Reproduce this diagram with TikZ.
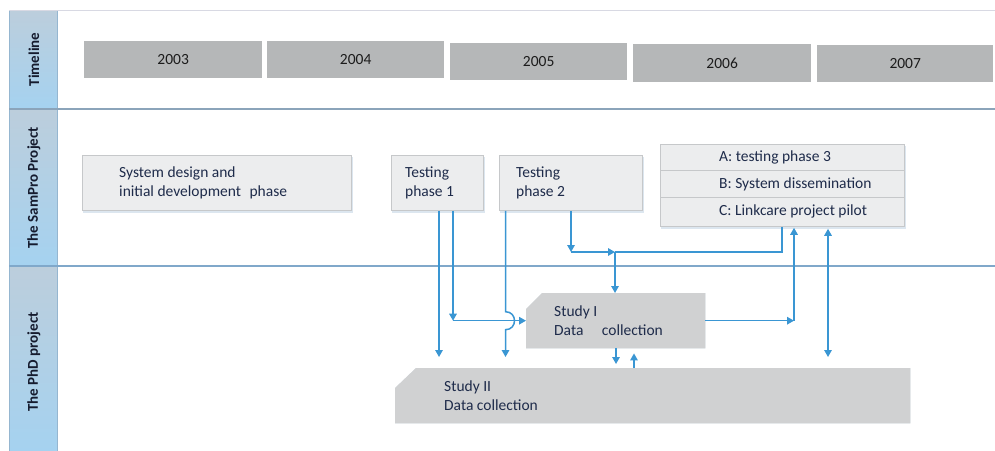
\documentclass[tikz,border=0pt]{standalone}
\usepackage{fontspec}
\setmainfont{Carlito}
\usetikzlibrary{arrows.meta,calc,backgrounds}

\definecolor{linkblue}{HTML}{3A96D3}
\definecolor{yeargray}{HTML}{B5B7B8}
\definecolor{boxfill}{HTML}{ECEDEE}
\definecolor{boxedge}{HTML}{C6C8CA}
\definecolor{studygray}{HTML}{D0D1D2}
\definecolor{shadowtint}{HTML}{DCE6EF}
\definecolor{boxink}{HTML}{1E2B4A}
\definecolor{yearink}{HTML}{1C1C1C}
\definecolor{laneink}{HTML}{151B2E}
\definecolor{laneTop}{HTML}{BCCEDC}
\definecolor{laneBot}{HTML}{A5D2F0}
\definecolor{coledge}{HTML}{95B6D0}
\definecolor{topline}{HTML}{D8D9E3}
\definecolor{sepA}{HTML}{8BA4BA}
\definecolor{sepB}{HTML}{80A8CA}

\begin{document}
\begin{tikzpicture}[x=1pt,y=-1pt,
  every node/.style={font=\fontsize{15.5}{18.5}\selectfont},
  yearbox/.style={rectangle, fill=yeargray, inner sep=0, anchor=north west, text=yearink},
  phasebox/.style={rectangle, draw=boxedge, fill=boxfill, line width=0.8pt,
    inner sep=0, anchor=north west},
  rowbox/.style={rectangle, draw=boxedge, fill=boxfill, line width=0.8pt,
    inner sep=0, anchor=north west, minimum width=244pt},
  studyframe/.style={rectangle, draw=none, inner sep=0, anchor=north west},
  boxtext/.style={anchor=west, align=left, inner sep=0, text=boxink},
  lanetitle/.style={rotate=90, inner sep=0, text=laneink,
    font=\fontsize{15}{18}\selectfont\bfseries},
  link/.style={draw=linkblue, line width=1.5pt},
  conn/.style={link, -{Triangle[length=7pt,width=7.5pt]}},
  biconn/.style={link, {Triangle[length=7pt,width=7.5pt]}-{Triangle[length=7pt,width=7.5pt]}},
  softshadow/.style={fill=shadowtint},
]
\useasboundingbox (0,0) rectangle (995,450);

% ---------- swim-lane frame ----------
\shade[top color=laneTop, bottom color=laneBot] (9,10) rectangle (57,109);
\shade[top color=laneTop, bottom color=laneBot] (9,109) rectangle (57,266);
\shade[top color=laneTop, bottom color=laneBot] (9,266) rectangle (57,452);
\draw[coledge, line width=0.8pt] (9,10) -- (9,452);
\draw[coledge, line width=0.8pt] (57,10) -- (57,452);
\draw[topline, line width=1pt] (9,10) -- (995,10);
\draw[sepA, line width=1.1pt] (9,109) -- (995,109);
\draw[sepB, line width=1.1pt] (9,266) -- (995,266);

\node[lanetitle] (lane-time) at (34,59.5) {Timeline};
\node[lanetitle] (lane-sampro) at (34,188) {The SamPro Project};
\node[lanetitle] (lane-phd) at (34,362) {The PhD project};

% ---------- timeline ----------
\node[yearbox, minimum width=178pt, minimum height=37pt] (y03) at (84,41) {2003};
\node[yearbox, minimum width=177pt, minimum height=37pt] (y04) at (267,41) {2004};
\node[yearbox, minimum width=177pt, minimum height=37pt] (y05) at (450,43) {2005};
\node[yearbox, minimum width=178pt, minimum height=38pt] (y06) at (633,44) {2006};
\node[yearbox, minimum width=176pt, minimum height=37pt] (y07) at (817,45) {2007};

% ---------- SamPro phases ----------
\node[phasebox, minimum width=269pt, minimum height=55pt] (sys) at (82,155) {};
\node[boxtext] (sys-t) at ([xshift=37pt]sys.west)
  {System design and\\initial development\hspace{0.55em}phase};

\node[phasebox, minimum width=92pt, minimum height=55pt] (t1) at (391,155) {};
\node[boxtext] (t1-t) at ([xshift=14pt]t1.west) {Testing\\phase 1};

\node[phasebox, minimum width=143pt, minimum height=55pt] (t2) at (499,155) {};
\node[boxtext] (t2-t) at ([xshift=17pt]t2.west) {Testing\\phase 2};

\node[rowbox, minimum height=26pt] (ra) at (660,144) {};
\node[rowbox, minimum height=27pt] (rb) at (660,170) {};
\node[rowbox, minimum height=29pt] (rc) at (660,197) {};
\node[boxtext] (ra-t) at ([xshift=59pt]ra.west) {A: testing phase 3};
\node[boxtext] (rb-t) at ([xshift=59pt]rb.west) {B: System dissemination};
\node[boxtext] (rc-t) at ([xshift=59pt]rc.west) {C: Linkcare project pilot};

% soft shadows under the light boxes
\begin{scope}[on background layer]
  \foreach \b in {sys,t1,t2} {
    \fill[softshadow] ([xshift=1.2pt,yshift=-2pt]\b.north west)
      rectangle ([xshift=1.2pt,yshift=-2pt]\b.south east);
  }
  \fill[softshadow] ([xshift=1.2pt,yshift=-2pt]ra.north west)
    rectangle ([xshift=1.2pt,yshift=-2pt]rc.south east);
\end{scope}

% ---------- PhD studies (cut top-left corner) ----------
\node[studyframe, minimum width=179pt, minimum height=55pt] (s1) at (526,293) {};
\node[studyframe, minimum width=515pt, minimum height=55pt] (s2) at (395,368) {};
\fill[softshadow, xshift=1pt, yshift=-1.6pt]
  (s1.south west) -- ([yshift=-16pt]s1.north west) -- ([xshift=16pt]s1.north west)
  -- (s1.north east) -- (s1.south east) -- cycle;
\fill[studygray]
  (s1.south west) -- ([yshift=-16pt]s1.north west) -- ([xshift=16pt]s1.north west)
  -- (s1.north east) -- (s1.south east) -- cycle;
\fill[softshadow, xshift=1pt, yshift=-1.6pt]
  (s2.south west) -- ([yshift=-20pt]s2.north west) -- ([xshift=21pt]s2.north west)
  -- (s2.north east) -- (s2.south east) -- cycle;
\fill[studygray]
  (s2.south west) -- ([yshift=-20pt]s2.north west) -- ([xshift=21pt]s2.north west)
  -- (s2.north east) -- (s2.south east) -- cycle;
\node[boxtext] (s1-t) at ([xshift=28pt]s1.west) {Study I\\Data\hspace{1.19em}collection};
\node[boxtext] (s2-t) at ([xshift=49pt]s2.west) {Study II\\Data collection};

% ---------- connector columns ----------
\coordinate (xA) at (439,0);
\coordinate (xB) at (453,0);
\coordinate (xC) at (505.5,0);
\coordinate (xD) at (571,0);
\coordinate (xE) at (615,0);
\coordinate (xF) at (782,0);
\coordinate (xG) at (794,0);
\coordinate (xH) at (828,0);
\coordinate (xI) at (616,0);
\coordinate (xJ) at (634,0);
\coordinate (yM) at (0,252);

\coordinate (kB) at (xB |- s1.west);
\coordinate (kD) at (xD |- yM);
\coordinate (kE) at (xE |- yM);
\coordinate (kF) at (xF |- yM);
\coordinate (kG) at (xG |- s1.east);
\coordinate (hopT) at ($(xC |- s1.west)+(0,-9)$);
\coordinate (hopB) at ($(xC |- s1.west)+(0,9)$);

% testing phase 1
\draw[conn, shorten >=11pt] (t1.south -| xA) -- (s2.north -| xA);
\draw[conn] (t1.south -| xB) -- (kB);
\draw[conn] (kB) -- (s1.west);

% testing phase 2 (hops over the feed into Study I)
\draw[conn, shorten >=11pt] (t2.south -| xC) -- (hopT)
  .. controls ($(hopT)+(12,0)$) and ($(hopB)+(12,0)$) .. (hopB)
  -- (s2.north -| xC);
\draw[conn] (t2.south -| xD) -- (kD);
\draw[conn] (kD) -- (kE);

% Linkcare pilot feeds the same junction
\draw[link] (rc.south -| xF) -- (kF) -- (kE);
\draw[conn] (kE) -- (s1.north -| xE);

% Study I back to the SamPro rows
\draw[conn] (s1.east) -- (kG);
\draw[conn, shorten >=1pt] (kG) -- (rc.south -| xG);

% Study II <-> SamPro rows
\draw[biconn, shorten <=2pt, shorten >=11pt] (rc.south -| xH) -- (s2.north -| xH);

% Study I <-> Study II
\draw[conn, shorten >=4pt] (s1.south -| xI) -- (s2.north -| xI);
\draw[conn, shorten >=5pt] (s2.north -| xJ) -- (s1.south -| xJ);

\end{tikzpicture}
\end{document}
